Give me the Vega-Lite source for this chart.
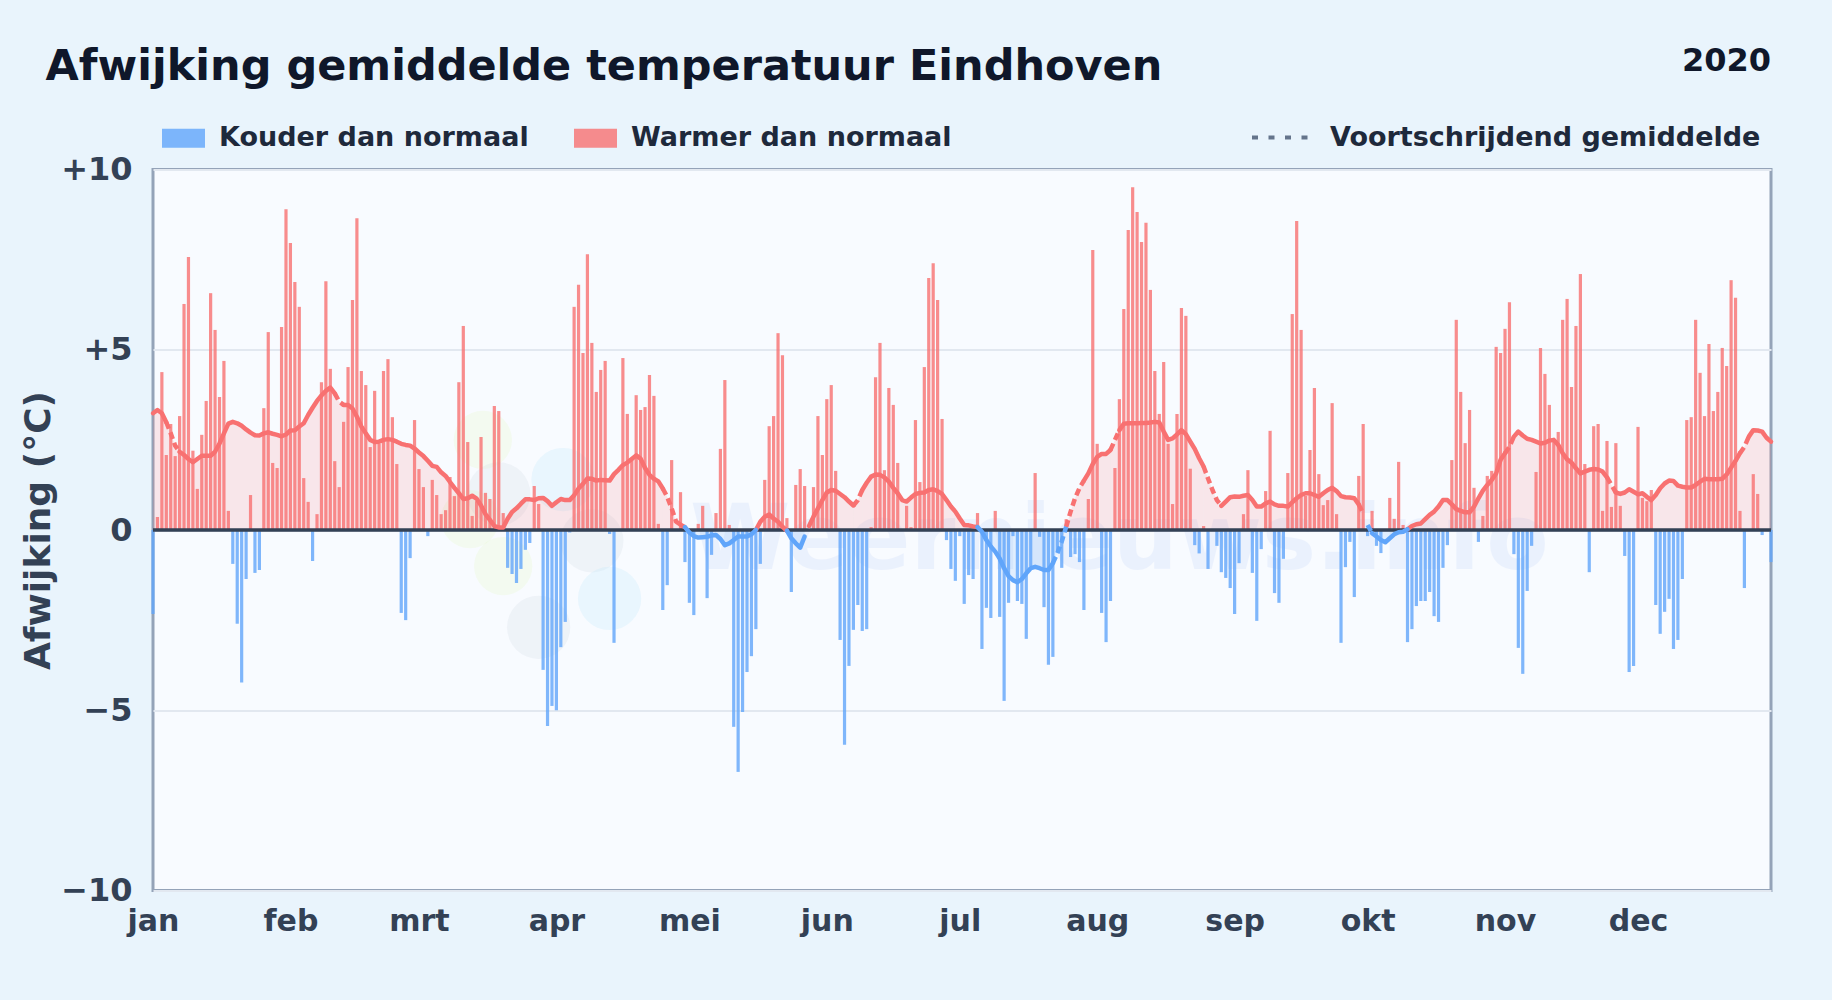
{
"$schema":"https://vega.github.io/schema/vega-lite/v6.json",
"width":1618,"height":721,
"autosize":"none",
"padding":{"left":153,"top":169.5,"right":61,"bottom":109.5},
"background":"#e9f4fc",
"title":{"text":"Afwijking gemiddelde temperatuur Eindhoven","anchor":"start","frame":"group","dx":-107.5,"offset":0,"dy":78,"baseline":"alphabetic","font":"DejaVu Sans","fontSize":43,"fontWeight":"bold","color":"#0f172a"},
"view":{"fill":"#f8fbff","stroke":"#94a3b8","strokeWidth":3},
"config":{"font":"DejaVu Sans"},
"encoding":{
 "x":{"field":"d","type":"quantitative","scale":{"domain":[0,365],"nice":false,"zero":false,"padding":0},
  "axis":{"title":null,"values":[0,31,60,91,121,152,182,213,244,274,305,335],"labelExpr":"['jan','feb','mrt','apr','mei','jun','jul','aug','sep','okt','nov','dec'][indexof([0,31,60,91,121,152,182,213,244,274,305,335],datum.value)]","grid":false,"ticks":false,"domain":false,"labelFont":"DejaVu Sans","labelFontSize":30,"labelFontWeight":"bold","labelColor":"#334155","labelPadding":16,"labelFlush":false,"labelOverlap":false}},
 "y":{"field":"v","type":"quantitative","scale":{"domain":[-10,10],"nice":false,"zero":false},
  "axis":{"title":"Afwijking (°C)","titleFont":"DejaVu Sans","titleFontSize":36,"titleFontWeight":"bold","titleColor":"#334155","titlePadding":3,"values":[-10,-5,0,5,10],"labelExpr":"datum.value>0?'+'+datum.value:(datum.value<0?'−'+abs(datum.value):'0')","grid":true,"gridColor":"#e2e8f0","gridWidth":2,"ticks":false,"domain":false,"labelFont":"DejaVu Sans","labelFontSize":32,"labelFontWeight":"bold","labelColor":"#334155","labelPadding":21,"labelOverlap":false}}
},
"datasets":{
"logoGroen":[{"d":74.4,"v":2.5},{"d":79,"v":-1.0},{"d":71.5,"v":0.3}],
"logoGrijs":[{"d":78,"v":1.0},{"d":87,"v":-2.7},{"d":99,"v":-0.3}],
"logoBlauw":[{"d":92.5,"v":1.4},{"d":103,"v":-1.9}],
"merk":[{"d":218,"v":0,"naam":"Weernieuws.info"}],
"jaar":[{"d":365,"v":10,"jaar":"2020"}],
"nul":[{"d":0,"v":0,"d2":365}],
"legenda":[{"d":0,"v":0,"reeks":"Voortschrijdend gemiddelde"}],
"koud":[{"d":0,"v":-2.33},{"d":18,"v":-0.94},{"d":19,"v":-2.6},{"d":20,"v":-4.23},{"d":21,"v":-1.36},{"d":23,"v":-1.19},{"d":24,"v":-1.11},{"d":36,"v":-0.86},{"d":56,"v":-2.3},{"d":57,"v":-2.5},{"d":58,"v":-0.78},{"d":62,"v":-0.17},{"d":80,"v":-1.05},{"d":81,"v":-1.22},{"d":82,"v":-1.47},{"d":83,"v":-1.08},{"d":84,"v":-0.55},{"d":85,"v":-0.36},{"d":88,"v":-3.88},{"d":89,"v":-5.44},{"d":90,"v":-4.88},{"d":91,"v":-5.0},{"d":92,"v":-3.25},{"d":93,"v":-2.55},{"d":94,"v":-0.07},{"d":103,"v":-0.11},{"d":104,"v":-3.13},{"d":115,"v":-2.22},{"d":116,"v":-1.53},{"d":120,"v":-0.89},{"d":121,"v":-2.02},{"d":122,"v":-2.36},{"d":125,"v":-1.89},{"d":126,"v":-0.69},{"d":131,"v":-5.46},{"d":132,"v":-6.71},{"d":133,"v":-5.05},{"d":134,"v":-3.94},{"d":135,"v":-3.5},{"d":136,"v":-2.75},{"d":137,"v":-0.94},{"d":144,"v":-1.72},{"d":155,"v":-3.05},{"d":156,"v":-5.96},{"d":157,"v":-3.77},{"d":158,"v":-2.77},{"d":159,"v":-2.08},{"d":160,"v":-2.8},{"d":161,"v":-2.75},{"d":179,"v":-0.28},{"d":180,"v":-1.08},{"d":181,"v":-1.41},{"d":182,"v":-0.17},{"d":183,"v":-2.05},{"d":184,"v":-1.25},{"d":185,"v":-1.36},{"d":187,"v":-3.3},{"d":188,"v":-2.16},{"d":189,"v":-2.44},{"d":191,"v":-2.41},{"d":192,"v":-4.74},{"d":193,"v":-2.02},{"d":194,"v":-0.17},{"d":195,"v":-1.97},{"d":196,"v":-2.05},{"d":197,"v":-3.02},{"d":198,"v":-1.0},{"d":200,"v":-0.19},{"d":201,"v":-2.14},{"d":202,"v":-3.74},{"d":203,"v":-3.52},{"d":204,"v":-0.6},{"d":205,"v":-1.05},{"d":207,"v":-0.75},{"d":208,"v":-0.67},{"d":209,"v":-0.89},{"d":210,"v":-2.22},{"d":214,"v":-2.3},{"d":215,"v":-3.11},{"d":216,"v":-1.97},{"d":235,"v":-0.42},{"d":236,"v":-0.65},{"d":238,"v":-1.08},{"d":240,"v":-0.44},{"d":241,"v":-1.17},{"d":242,"v":-1.33},{"d":243,"v":-1.61},{"d":244,"v":-2.33},{"d":245,"v":-0.92},{"d":248,"v":-1.19},{"d":249,"v":-2.52},{"d":250,"v":-0.53},{"d":253,"v":-1.75},{"d":254,"v":-2.02},{"d":255,"v":-0.8},{"d":268,"v":-3.13},{"d":269,"v":-1.03},{"d":270,"v":-0.33},{"d":271,"v":-1.86},{"d":274,"v":-0.17},{"d":276,"v":-0.44},{"d":277,"v":-0.64},{"d":283,"v":-3.11},{"d":284,"v":-2.75},{"d":285,"v":-2.11},{"d":286,"v":-1.97},{"d":287,"v":-1.97},{"d":288,"v":-1.72},{"d":289,"v":-2.39},{"d":290,"v":-2.55},{"d":291,"v":-1.05},{"d":292,"v":-0.42},{"d":299,"v":-0.33},{"d":307,"v":-0.67},{"d":308,"v":-3.27},{"d":309,"v":-3.99},{"d":310,"v":-1.69},{"d":311,"v":-0.44},{"d":324,"v":-1.17},{"d":332,"v":-0.72},{"d":333,"v":-3.94},{"d":334,"v":-3.77},{"d":339,"v":-2.08},{"d":340,"v":-2.88},{"d":341,"v":-2.27},{"d":342,"v":-1.91},{"d":343,"v":-3.3},{"d":344,"v":-3.05},{"d":345,"v":-1.36},{"d":359,"v":-1.61},{"d":363,"v":-0.14},{"d":365,"v":-0.89}],
"warm":[{"d":1,"v":0.36},{"d":2,"v":4.38},{"d":3,"v":2.08},{"d":4,"v":2.94},{"d":5,"v":2.05},{"d":6,"v":3.16},{"d":7,"v":6.27},{"d":8,"v":7.57},{"d":9,"v":2.2},{"d":10,"v":1.14},{"d":11,"v":2.64},{"d":12,"v":3.58},{"d":13,"v":6.57},{"d":14,"v":5.55},{"d":15,"v":3.69},{"d":16,"v":4.69},{"d":17,"v":0.53},{"d":22,"v":0.97},{"d":25,"v":3.38},{"d":26,"v":5.49},{"d":27,"v":1.86},{"d":28,"v":1.72},{"d":29,"v":5.63},{"d":30,"v":8.9},{"d":31,"v":7.96},{"d":32,"v":6.88},{"d":33,"v":6.19},{"d":34,"v":1.44},{"d":35,"v":0.78},{"d":37,"v":0.44},{"d":38,"v":4.1},{"d":39,"v":6.9},{"d":40,"v":4.47},{"d":41,"v":1.91},{"d":42,"v":1.19},{"d":43,"v":3.0},{"d":44,"v":4.52},{"d":45,"v":6.38},{"d":46,"v":8.65},{"d":47,"v":4.41},{"d":48,"v":4.02},{"d":49,"v":2.3},{"d":50,"v":3.86},{"d":51,"v":2.39},{"d":52,"v":4.41},{"d":53,"v":4.74},{"d":54,"v":3.13},{"d":55,"v":1.83},{"d":59,"v":3.05},{"d":60,"v":1.69},{"d":61,"v":1.19},{"d":63,"v":1.39},{"d":64,"v":0.97},{"d":65,"v":0.44},{"d":66,"v":0.55},{"d":67,"v":1.47},{"d":68,"v":0.94},{"d":69,"v":4.1},{"d":70,"v":5.66},{"d":71,"v":2.44},{"d":72,"v":0.39},{"d":73,"v":0.8},{"d":74,"v":2.58},{"d":75,"v":1.03},{"d":76,"v":0.86},{"d":77,"v":3.44},{"d":78,"v":3.3},{"d":79,"v":0.47},{"d":86,"v":1.22},{"d":87,"v":0.72},{"d":95,"v":6.19},{"d":96,"v":6.8},{"d":97,"v":4.91},{"d":98,"v":7.65},{"d":99,"v":5.19},{"d":100,"v":3.83},{"d":101,"v":4.44},{"d":102,"v":4.69},{"d":106,"v":4.77},{"d":107,"v":3.22},{"d":108,"v":1.94},{"d":109,"v":3.74},{"d":110,"v":3.33},{"d":111,"v":3.41},{"d":112,"v":4.3},{"d":113,"v":3.72},{"d":114,"v":0.17},{"d":117,"v":1.94},{"d":119,"v":1.05},{"d":123,"v":0.17},{"d":124,"v":0.67},{"d":127,"v":0.47},{"d":128,"v":2.25},{"d":129,"v":4.16},{"d":130,"v":0.14},{"d":138,"v":1.39},{"d":139,"v":2.88},{"d":140,"v":3.16},{"d":141,"v":5.46},{"d":142,"v":4.85},{"d":143,"v":0.33},{"d":145,"v":1.25},{"d":146,"v":1.69},{"d":147,"v":1.22},{"d":149,"v":1.19},{"d":150,"v":3.16},{"d":151,"v":2.08},{"d":152,"v":3.63},{"d":153,"v":4.02},{"d":154,"v":1.64},{"d":162,"v":0.08},{"d":163,"v":4.24},{"d":164,"v":5.19},{"d":165,"v":1.66},{"d":166,"v":3.94},{"d":167,"v":3.47},{"d":168,"v":1.86},{"d":170,"v":0.67},{"d":171,"v":0.08},{"d":172,"v":3.05},{"d":173,"v":1.33},{"d":174,"v":4.52},{"d":175,"v":6.99},{"d":176,"v":7.4},{"d":177,"v":6.38},{"d":178,"v":3.08},{"d":186,"v":0.47},{"d":190,"v":0.53},{"d":199,"v":1.58},{"d":206,"v":0.3},{"d":211,"v":0.86},{"d":212,"v":7.77},{"d":213,"v":2.39},{"d":217,"v":1.72},{"d":218,"v":3.63},{"d":219,"v":6.13},{"d":220,"v":8.32},{"d":221,"v":9.51},{"d":222,"v":8.82},{"d":223,"v":7.99},{"d":224,"v":8.52},{"d":225,"v":6.66},{"d":226,"v":4.41},{"d":227,"v":3.22},{"d":228,"v":4.66},{"d":229,"v":2.39},{"d":230,"v":0.72},{"d":231,"v":3.22},{"d":232,"v":6.16},{"d":233,"v":5.94},{"d":234,"v":1.7},{"d":237,"v":0.11},{"d":246,"v":0.44},{"d":247,"v":1.66},{"d":251,"v":1.08},{"d":252,"v":2.75},{"d":256,"v":1.58},{"d":257,"v":5.99},{"d":258,"v":8.57},{"d":259,"v":5.55},{"d":260,"v":0.95},{"d":261,"v":2.22},{"d":262,"v":3.94},{"d":263,"v":1.55},{"d":264,"v":0.69},{"d":265,"v":0.83},{"d":266,"v":3.52},{"d":267,"v":0.44},{"d":272,"v":1.5},{"d":273,"v":2.94},{"d":275,"v":0.53},{"d":279,"v":0.89},{"d":280,"v":0.31},{"d":281,"v":1.89},{"d":282,"v":0.14},{"d":293,"v":1.94},{"d":294,"v":5.83},{"d":295,"v":3.83},{"d":296,"v":2.41},{"d":297,"v":3.33},{"d":298,"v":1.17},{"d":300,"v":0.39},{"d":301,"v":1.5},{"d":302,"v":1.64},{"d":303,"v":5.08},{"d":304,"v":4.91},{"d":305,"v":5.58},{"d":306,"v":6.32},{"d":312,"v":1.61},{"d":313,"v":5.05},{"d":314,"v":4.33},{"d":315,"v":3.47},{"d":316,"v":2.5},{"d":317,"v":2.72},{"d":318,"v":5.83},{"d":319,"v":6.41},{"d":320,"v":3.97},{"d":321,"v":5.66},{"d":322,"v":7.1},{"d":323,"v":1.83},{"d":325,"v":2.88},{"d":326,"v":2.94},{"d":327,"v":0.53},{"d":328,"v":2.47},{"d":329,"v":0.64},{"d":330,"v":2.41},{"d":331,"v":0.67},{"d":335,"v":2.86},{"d":336,"v":0.89},{"d":337,"v":0.8},{"d":338,"v":1.11},{"d":346,"v":3.05},{"d":347,"v":3.13},{"d":348,"v":5.83},{"d":349,"v":4.36},{"d":350,"v":3.16},{"d":351,"v":5.16},{"d":352,"v":3.3},{"d":353,"v":3.83},{"d":354,"v":5.05},{"d":355,"v":4.55},{"d":356,"v":6.93},{"d":357,"v":6.44},{"d":358,"v":0.53},{"d":361,"v":1.55},{"d":362,"v":1.0}],
"trend":[{"d":0,"v":3.24,"s":"w1"},{"d":1,"v":3.33,"s":"w1"},{"d":2,"v":3.24,"s":"w1"},{"d":3,"v":2.99,"s":"w1"},{"d":3,"v":2.99,"s":"wd1"},{"d":4,"v":2.68,"s":"wd1"},{"d":5,"v":2.34,"s":"wd1"},{"d":6,"v":2.17,"s":"wd1"},{"d":6,"v":2.17,"s":"w2"},{"d":7,"v":2.08,"s":"w2"},{"d":8,"v":1.97,"s":"w2"},{"d":9,"v":1.88,"s":"w2"},{"d":10,"v":1.97,"s":"w2"},{"d":11,"v":2.06,"s":"w2"},{"d":12,"v":2.06,"s":"w2"},{"d":13,"v":2.06,"s":"w2"},{"d":14,"v":2.17,"s":"w2"},{"d":15,"v":2.4,"s":"w2"},{"d":16,"v":2.68,"s":"w2"},{"d":17,"v":2.95,"s":"w2"},{"d":18,"v":3.0,"s":"w2"},{"d":19,"v":2.96,"s":"w2"},{"d":20,"v":2.89,"s":"w2"},{"d":21,"v":2.79,"s":"w2"},{"d":22,"v":2.7,"s":"w2"},{"d":23,"v":2.63,"s":"w2"},{"d":24,"v":2.62,"s":"w2"},{"d":25,"v":2.68,"s":"w2"},{"d":26,"v":2.71,"s":"w2"},{"d":27,"v":2.67,"s":"w2"},{"d":28,"v":2.64,"s":"w2"},{"d":29,"v":2.6,"s":"w2"},{"d":30,"v":2.65,"s":"w2"},{"d":31,"v":2.76,"s":"w2"},{"d":32,"v":2.77,"s":"w2"},{"d":33,"v":2.87,"s":"w2"},{"d":34,"v":2.96,"s":"w2"},{"d":35,"v":3.19,"s":"w2"},{"d":36,"v":3.39,"s":"w2"},{"d":37,"v":3.58,"s":"w2"},{"d":38,"v":3.73,"s":"w2"},{"d":39,"v":3.86,"s":"w2"},{"d":40,"v":3.95,"s":"w2"},{"d":41,"v":3.79,"s":"w2"},{"d":41,"v":3.79,"s":"wd2"},{"d":42,"v":3.56,"s":"wd2"},{"d":43,"v":3.47,"s":"wd2"},{"d":43,"v":3.47,"s":"w3"},{"d":44,"v":3.47,"s":"w3"},{"d":45,"v":3.37,"s":"w3"},{"d":46,"v":3.14,"s":"w3"},{"d":47,"v":2.87,"s":"w3"},{"d":48,"v":2.68,"s":"w3"},{"d":49,"v":2.5,"s":"w3"},{"d":50,"v":2.44,"s":"w3"},{"d":51,"v":2.45,"s":"w3"},{"d":52,"v":2.5,"s":"w3"},{"d":53,"v":2.52,"s":"w3"},{"d":54,"v":2.5,"s":"w3"},{"d":55,"v":2.45,"s":"w3"},{"d":56,"v":2.39,"s":"w3"},{"d":57,"v":2.36,"s":"w3"},{"d":58,"v":2.34,"s":"w3"},{"d":59,"v":2.26,"s":"w3"},{"d":60,"v":2.15,"s":"w3"},{"d":61,"v":2.05,"s":"w3"},{"d":62,"v":1.92,"s":"w3"},{"d":63,"v":1.78,"s":"w3"},{"d":64,"v":1.75,"s":"w3"},{"d":65,"v":1.6,"s":"w3"},{"d":66,"v":1.5,"s":"w3"},{"d":67,"v":1.33,"s":"w3"},{"d":68,"v":1.17,"s":"w3"},{"d":69,"v":1.02,"s":"w3"},{"d":70,"v":0.86,"s":"w3"},{"d":71,"v":0.88,"s":"w3"},{"d":72,"v":0.95,"s":"w3"},{"d":73,"v":0.87,"s":"w3"},{"d":74,"v":0.68,"s":"w3"},{"d":75,"v":0.44,"s":"w3"},{"d":76,"v":0.28,"s":"w3"},{"d":77,"v":0.11,"s":"w3"},{"d":78,"v":0.07,"s":"w3"},{"d":79,"v":0.07,"s":"w3"},{"d":80,"v":0.31,"s":"w3"},{"d":81,"v":0.5,"s":"w3"},{"d":82,"v":0.6,"s":"w3"},{"d":83,"v":0.73,"s":"w3"},{"d":84,"v":0.85,"s":"w3"},{"d":85,"v":0.85,"s":"w3"},{"d":86,"v":0.83,"s":"w3"},{"d":87,"v":0.88,"s":"w3"},{"d":88,"v":0.89,"s":"w3"},{"d":89,"v":0.8,"s":"w3"},{"d":90,"v":0.67,"s":"w3"},{"d":91,"v":0.77,"s":"w3"},{"d":92,"v":0.86,"s":"w3"},{"d":93,"v":0.83,"s":"w3"},{"d":94,"v":0.83,"s":"w3"},{"d":95,"v":0.96,"s":"w3"},{"d":96,"v":1.15,"s":"w3"},{"d":97,"v":1.28,"s":"w3"},{"d":98,"v":1.43,"s":"w3"},{"d":99,"v":1.42,"s":"w3"},{"d":100,"v":1.37,"s":"w3"},{"d":101,"v":1.39,"s":"w3"},{"d":102,"v":1.38,"s":"w3"},{"d":103,"v":1.37,"s":"w3"},{"d":104,"v":1.55,"s":"w3"},{"d":105,"v":1.67,"s":"w3"},{"d":106,"v":1.8,"s":"w3"},{"d":107,"v":1.87,"s":"w3"},{"d":108,"v":1.97,"s":"w3"},{"d":109,"v":2.07,"s":"w3"},{"d":110,"v":1.98,"s":"w3"},{"d":111,"v":1.72,"s":"w3"},{"d":112,"v":1.53,"s":"w3"},{"d":113,"v":1.42,"s":"w3"},{"d":114,"v":1.35,"s":"w3"},{"d":115,"v":1.15,"s":"w3"},{"d":115,"v":1.15,"s":"wd3"},{"d":116,"v":0.92,"s":"wd3"},{"d":117,"v":0.6,"s":"wd3"},{"d":118,"v":0.23,"s":"wd3"},{"d":118,"v":0.23,"s":"w4"},{"d":119,"v":0.15,"s":"w4"},{"d":120,"v":0.08,"s":"w4"},{"d":120,"v":0.08,"s":"k1"},{"d":121,"v":-0.07,"s":"k1"},{"d":122,"v":-0.17,"s":"k1"},{"d":123,"v":-0.21,"s":"k1"},{"d":124,"v":-0.2,"s":"k1"},{"d":125,"v":-0.19,"s":"k1"},{"d":126,"v":-0.15,"s":"k1"},{"d":127,"v":-0.14,"s":"k1"},{"d":128,"v":-0.25,"s":"k1"},{"d":129,"v":-0.42,"s":"k1"},{"d":130,"v":-0.37,"s":"k1"},{"d":131,"v":-0.28,"s":"k1"},{"d":132,"v":-0.18,"s":"k1"},{"d":133,"v":-0.18,"s":"k1"},{"d":134,"v":-0.18,"s":"k1"},{"d":135,"v":-0.12,"s":"k1"},{"d":136,"v":0,"s":"k1"},{"d":136,"v":0,"s":"w5"},{"d":137,"v":0.23,"s":"w5"},{"d":138,"v":0.37,"s":"w5"},{"d":139,"v":0.43,"s":"w5"},{"d":140,"v":0.32,"s":"w5"},{"d":141,"v":0.23,"s":"w5"},{"d":142,"v":0.09,"s":"w5"},{"d":143,"v":-0.02,"s":"w5"},{"d":143,"v":-0.02,"s":"k2"},{"d":144,"v":-0.23,"s":"k2"},{"d":145,"v":-0.37,"s":"k2"},{"d":146,"v":-0.49,"s":"k2"},{"d":147,"v":-0.18,"s":"k2"},{"d":148,"v":0.11,"s":"w6"},{"d":149,"v":0.37,"s":"w6"},{"d":150,"v":0.6,"s":"w6"},{"d":151,"v":0.83,"s":"w6"},{"d":152,"v":1.04,"s":"w6"},{"d":153,"v":1.11,"s":"w6"},{"d":154,"v":1.09,"s":"w6"},{"d":155,"v":1.0,"s":"w6"},{"d":156,"v":0.91,"s":"w6"},{"d":157,"v":0.79,"s":"w6"},{"d":158,"v":0.68,"s":"w6"},{"d":158,"v":0.68,"s":"wd4"},{"d":159,"v":0.83,"s":"wd4"},{"d":160,"v":1.11,"s":"wd4"},{"d":160,"v":1.11,"s":"w7"},{"d":161,"v":1.31,"s":"w7"},{"d":162,"v":1.48,"s":"w7"},{"d":163,"v":1.54,"s":"w7"},{"d":164,"v":1.53,"s":"w7"},{"d":165,"v":1.46,"s":"w7"},{"d":166,"v":1.34,"s":"w7"},{"d":167,"v":1.17,"s":"w7"},{"d":168,"v":1.02,"s":"w7"},{"d":169,"v":0.83,"s":"w7"},{"d":170,"v":0.79,"s":"w7"},{"d":171,"v":0.9,"s":"w7"},{"d":172,"v":1.0,"s":"w7"},{"d":173,"v":1.03,"s":"w7"},{"d":174,"v":1.04,"s":"w7"},{"d":175,"v":1.11,"s":"w7"},{"d":176,"v":1.13,"s":"w7"},{"d":177,"v":1.08,"s":"w7"},{"d":178,"v":1.0,"s":"w7"},{"d":179,"v":0.83,"s":"w7"},{"d":180,"v":0.65,"s":"w7"},{"d":181,"v":0.51,"s":"w7"},{"d":182,"v":0.32,"s":"w7"},{"d":183,"v":0.14,"s":"w7"},{"d":184,"v":0.13,"s":"w7"},{"d":185,"v":0.1,"s":"w7"},{"d":186,"v":0.08,"s":"w7"},{"d":186,"v":0.08,"s":"k3"},{"d":187,"v":-0.05,"s":"k3"},{"d":188,"v":-0.28,"s":"k3"},{"d":189,"v":-0.46,"s":"k3"},{"d":190,"v":-0.6,"s":"k3"},{"d":191,"v":-0.79,"s":"k3"},{"d":192,"v":-1.06,"s":"k3"},{"d":193,"v":-1.28,"s":"k3"},{"d":194,"v":-1.39,"s":"k3"},{"d":195,"v":-1.45,"s":"k3"},{"d":196,"v":-1.36,"s":"k3"},{"d":197,"v":-1.2,"s":"k3"},{"d":198,"v":-1.06,"s":"k3"},{"d":199,"v":-1.02,"s":"k3"},{"d":200,"v":-1.06,"s":"k3"},{"d":201,"v":-1.11,"s":"k3"},{"d":202,"v":-1.11,"s":"k3"},{"d":203,"v":-0.92,"s":"k3"},{"d":203,"v":-0.92,"s":"kd1"},{"d":204,"v":-0.65,"s":"kd1"},{"d":205,"v":-0.32,"s":"kd1"},{"d":206,"v":0.09,"s":"kd1"},{"d":206,"v":0.09,"s":"wd5"},{"d":207,"v":0.51,"s":"wd5"},{"d":208,"v":0.88,"s":"wd5"},{"d":209,"v":1.16,"s":"wd5"},{"d":210,"v":1.37,"s":"wd5"},{"d":210,"v":1.37,"s":"w8"},{"d":211,"v":1.57,"s":"w8"},{"d":212,"v":1.83,"s":"w8"},{"d":213,"v":2.03,"s":"w8"},{"d":214,"v":2.11,"s":"w8"},{"d":215,"v":2.11,"s":"w8"},{"d":216,"v":2.22,"s":"w8"},{"d":216,"v":2.22,"s":"wd6"},{"d":217,"v":2.5,"s":"wd6"},{"d":218,"v":2.77,"s":"wd6"},{"d":218,"v":2.77,"s":"w9"},{"d":219,"v":2.95,"s":"w9"},{"d":220,"v":2.96,"s":"w9"},{"d":221,"v":2.96,"s":"w9"},{"d":222,"v":2.96,"s":"w9"},{"d":223,"v":2.97,"s":"w9"},{"d":224,"v":2.97,"s":"w9"},{"d":225,"v":2.98,"s":"w9"},{"d":226,"v":3.0,"s":"w9"},{"d":227,"v":2.98,"s":"w9"},{"d":228,"v":2.73,"s":"w9"},{"d":229,"v":2.5,"s":"w9"},{"d":230,"v":2.54,"s":"w9"},{"d":231,"v":2.65,"s":"w9"},{"d":232,"v":2.77,"s":"w9"},{"d":233,"v":2.66,"s":"w9"},{"d":234,"v":2.45,"s":"w9"},{"d":235,"v":2.25,"s":"w9"},{"d":236,"v":1.99,"s":"w9"},{"d":237,"v":1.76,"s":"w9"},{"d":237,"v":1.76,"s":"wd7"},{"d":238,"v":1.43,"s":"wd7"},{"d":239,"v":1.11,"s":"wd7"},{"d":240,"v":0.83,"s":"wd7"},{"d":241,"v":0.67,"s":"wd7"},{"d":241,"v":0.67,"s":"w10"},{"d":242,"v":0.79,"s":"w10"},{"d":243,"v":0.91,"s":"w10"},{"d":244,"v":0.93,"s":"w10"},{"d":245,"v":0.92,"s":"w10"},{"d":246,"v":0.95,"s":"w10"},{"d":247,"v":0.97,"s":"w10"},{"d":248,"v":0.83,"s":"w10"},{"d":249,"v":0.65,"s":"w10"},{"d":250,"v":0.65,"s":"w10"},{"d":251,"v":0.74,"s":"w10"},{"d":252,"v":0.79,"s":"w10"},{"d":253,"v":0.71,"s":"w10"},{"d":254,"v":0.67,"s":"w10"},{"d":255,"v":0.67,"s":"w10"},{"d":256,"v":0.65,"s":"w10"},{"d":257,"v":0.77,"s":"w10"},{"d":258,"v":0.88,"s":"w10"},{"d":259,"v":0.97,"s":"w10"},{"d":260,"v":1.02,"s":"w10"},{"d":261,"v":1.02,"s":"w10"},{"d":262,"v":0.97,"s":"w10"},{"d":263,"v":0.92,"s":"w10"},{"d":264,"v":1.02,"s":"w10"},{"d":265,"v":1.11,"s":"w10"},{"d":266,"v":1.17,"s":"w10"},{"d":267,"v":1.08,"s":"w10"},{"d":268,"v":0.94,"s":"w10"},{"d":269,"v":0.91,"s":"w10"},{"d":270,"v":0.9,"s":"w10"},{"d":271,"v":0.88,"s":"w10"},{"d":272,"v":0.71,"s":"w10"},{"d":272,"v":0.71,"s":"wd8"},{"d":273,"v":0.46,"s":"wd8"},{"d":274,"v":0.14,"s":"kd2"},{"d":275,"v":-0.09,"s":"kd2"},{"d":275,"v":-0.09,"s":"k4"},{"d":276,"v":-0.18,"s":"k4"},{"d":277,"v":-0.28,"s":"k4"},{"d":278,"v":-0.34,"s":"k4"},{"d":279,"v":-0.23,"s":"k4"},{"d":280,"v":-0.12,"s":"k4"},{"d":281,"v":-0.06,"s":"k4"},{"d":282,"v":-0.05,"s":"k4"},{"d":283,"v":0.02,"s":"k4"},{"d":283,"v":0.02,"s":"w11"},{"d":284,"v":0.11,"s":"w11"},{"d":285,"v":0.16,"s":"w11"},{"d":286,"v":0.18,"s":"w11"},{"d":287,"v":0.3,"s":"w11"},{"d":288,"v":0.42,"s":"w11"},{"d":289,"v":0.51,"s":"w11"},{"d":290,"v":0.65,"s":"w11"},{"d":291,"v":0.83,"s":"w11"},{"d":292,"v":0.83,"s":"w11"},{"d":293,"v":0.71,"s":"w11"},{"d":294,"v":0.58,"s":"w11"},{"d":295,"v":0.53,"s":"w11"},{"d":296,"v":0.49,"s":"w11"},{"d":297,"v":0.49,"s":"w11"},{"d":298,"v":0.65,"s":"w11"},{"d":299,"v":0.88,"s":"w11"},{"d":300,"v":1.09,"s":"w11"},{"d":301,"v":1.25,"s":"w11"},{"d":302,"v":1.39,"s":"w11"},{"d":303,"v":1.57,"s":"w11"},{"d":304,"v":1.95,"s":"w11"},{"d":305,"v":2.13,"s":"w11"},{"d":305,"v":2.13,"s":"wd9"},{"d":306,"v":2.31,"s":"wd9"},{"d":307,"v":2.59,"s":"wd9"},{"d":307,"v":2.59,"s":"w12"},{"d":308,"v":2.73,"s":"w12"},{"d":309,"v":2.62,"s":"w12"},{"d":310,"v":2.53,"s":"w12"},{"d":311,"v":2.5,"s":"w12"},{"d":312,"v":2.45,"s":"w12"},{"d":313,"v":2.4,"s":"w12"},{"d":314,"v":2.42,"s":"w12"},{"d":315,"v":2.48,"s":"w12"},{"d":316,"v":2.5,"s":"w12"},{"d":317,"v":2.36,"s":"w12"},{"d":318,"v":2.13,"s":"w12"},{"d":319,"v":1.96,"s":"w12"},{"d":320,"v":1.87,"s":"w12"},{"d":321,"v":1.71,"s":"w12"},{"d":322,"v":1.57,"s":"w12"},{"d":323,"v":1.62,"s":"w12"},{"d":324,"v":1.67,"s":"w12"},{"d":325,"v":1.69,"s":"w12"},{"d":326,"v":1.68,"s":"w12"},{"d":327,"v":1.62,"s":"w12"},{"d":328,"v":1.46,"s":"w12"},{"d":328,"v":1.46,"s":"wd10"},{"d":329,"v":1.25,"s":"wd10"},{"d":330,"v":1.04,"s":"wd10"},{"d":330,"v":1.04,"s":"w13"},{"d":331,"v":1.0,"s":"w13"},{"d":332,"v":1.04,"s":"w13"},{"d":333,"v":1.13,"s":"w13"},{"d":334,"v":1.06,"s":"w13"},{"d":335,"v":0.99,"s":"w13"},{"d":336,"v":1.02,"s":"w13"},{"d":337,"v":0.92,"s":"w13"},{"d":338,"v":0.83,"s":"w13"},{"d":339,"v":0.97,"s":"w13"},{"d":340,"v":1.16,"s":"w13"},{"d":341,"v":1.29,"s":"w13"},{"d":342,"v":1.37,"s":"w13"},{"d":343,"v":1.36,"s":"w13"},{"d":344,"v":1.23,"s":"w13"},{"d":345,"v":1.2,"s":"w13"},{"d":346,"v":1.18,"s":"w13"},{"d":347,"v":1.18,"s":"w13"},{"d":348,"v":1.25,"s":"w13"},{"d":349,"v":1.34,"s":"w13"},{"d":350,"v":1.42,"s":"w13"},{"d":351,"v":1.41,"s":"w13"},{"d":352,"v":1.41,"s":"w13"},{"d":353,"v":1.41,"s":"w13"},{"d":354,"v":1.42,"s":"w13"},{"d":355,"v":1.54,"s":"w13"},{"d":356,"v":1.73,"s":"w13"},{"d":357,"v":1.92,"s":"w13"},{"d":358,"v":2.13,"s":"w13"},{"d":358,"v":2.13,"s":"wd11"},{"d":359,"v":2.31,"s":"wd11"},{"d":360,"v":2.59,"s":"wd11"},{"d":360,"v":2.59,"s":"w14"},{"d":361,"v":2.77,"s":"w14"},{"d":362,"v":2.76,"s":"w14"},{"d":363,"v":2.73,"s":"w14"},{"d":364,"v":2.56,"s":"w14"},{"d":365,"v":2.45,"s":"w14"}]
},
"layer":[
 {"data":{"name":"logoGroen"},"mark":{"type":"point","filled":true,"size":3400,"color":"#d9f99d","opacity":0.15,"clip":true}},
 {"data":{"name":"logoGrijs"},"mark":{"type":"point","filled":true,"size":4000,"color":"#cbd5e1","opacity":0.22,"clip":true}},
 {"data":{"name":"logoBlauw"},"mark":{"type":"point","filled":true,"size":4000,"color":"#bae6fd","opacity":0.25,"clip":true}},
 {"data":{"name":"merk"},"mark":{"type":"text","font":"DejaVu Sans","fontWeight":"bold","fontSize":91,"color":"#2563eb","opacity":0.06,"align":"center","baseline":"alphabetic","dy":39},"encoding":{"text":{"field":"naam"}}},
 {"data":{"name":"trend"},"transform":[{"filter":"test(/^w/,datum.s)"}],"mark":{"type":"area","color":"#f87171","opacity":0.15},"encoding":{"y2":{"datum":0},"detail":{"field":"s"}}},
 {"data":{"name":"trend"},"transform":[{"filter":"test(/^k/,datum.s)"}],"mark":{"type":"area","color":"#60a5fa","opacity":0.15},"encoding":{"y2":{"datum":0},"detail":{"field":"s"}}},
 {"data":{"name":"koud"},"mark":{"type":"bar","orient":"vertical","size":3.2,"opacity":0.8},"encoding":{"y":{"field":"v","type":"quantitative","stack":null},"color":{"datum":"Kouder dan normaal","scale":{"domain":["Kouder dan normaal","Warmer dan normaal"],"range":["#60a5fa","#f87171"]},"legend":{"title":null,"orient":"none","direction":"horizontal","columns":2,"legendX":9,"legendY":-53,"symbolType":"M-1,-0.44H1V0.44H-1Z","symbolSize":1849,"symbolStrokeWidth":0,"symbolOpacity":0.8,"labelFont":"DejaVu Sans","labelFontSize":27,"labelFontWeight":"bold","labelColor":"#1e293b","labelOffset":14,"columnPadding":45,"labelLimit":500}}}},
 {"data":{"name":"warm"},"mark":{"type":"bar","orient":"vertical","size":3.2,"opacity":0.8},"encoding":{"y":{"field":"v","type":"quantitative","stack":null},"color":{"datum":"Warmer dan normaal"}}},
 {"data":{"name":"nul"},"mark":{"type":"rule","color":"#334155","strokeWidth":3.6},"encoding":{"x2":{"field":"d2"}}},
 {"data":{"name":"trend"},"transform":[{"filter":"test(/^w[0-9]/,datum.s)"}],"mark":{"type":"line","color":"#f87171","strokeWidth":4.5,"strokeCap":"round","strokeJoin":"round"},"encoding":{"detail":{"field":"s"}}},
 {"data":{"name":"trend"},"transform":[{"filter":"test(/^wd/,datum.s)"}],"mark":{"type":"line","color":"#f87171","strokeWidth":4.5,"strokeDash":[7,4],"strokeJoin":"round"},"encoding":{"detail":{"field":"s"}}},
 {"data":{"name":"trend"},"transform":[{"filter":"test(/^k[0-9]/,datum.s)"}],"mark":{"type":"line","color":"#60a5fa","strokeWidth":4.5,"strokeCap":"round","strokeJoin":"round"},"encoding":{"detail":{"field":"s"}}},
 {"data":{"name":"trend"},"transform":[{"filter":"test(/^kd/,datum.s)"}],"mark":{"type":"line","color":"#60a5fa","strokeWidth":4.5,"strokeDash":[7,4],"strokeJoin":"round"},"encoding":{"detail":{"field":"s"}}},
 {"data":{"name":"legenda"},"mark":{"type":"line","color":"#64748b","strokeWidth":4},"encoding":{"strokeDash":{"field":"reeks","type":"nominal","scale":{"range":[[6,10.5]]},"legend":{"title":null,"orient":"none","direction":"horizontal","legendX":1097,"legendY":-62,"symbolType":"stroke","symbolSize":3136,"symbolStrokeColor":"#64748b","symbolStrokeWidth":4,"labelFont":"DejaVu Sans","labelFontSize":27,"labelFontWeight":"bold","labelColor":"#1e293b","labelOffset":20,"labelLimit":600}}}},
 {"data":{"name":"jaar"},"mark":{"type":"text","font":"DejaVu Sans","fontWeight":"bold","fontSize":32,"color":"#0f172a","align":"right","baseline":"alphabetic","dy":-98.5},"encoding":{"text":{"field":"jaar"}}}
]
}
